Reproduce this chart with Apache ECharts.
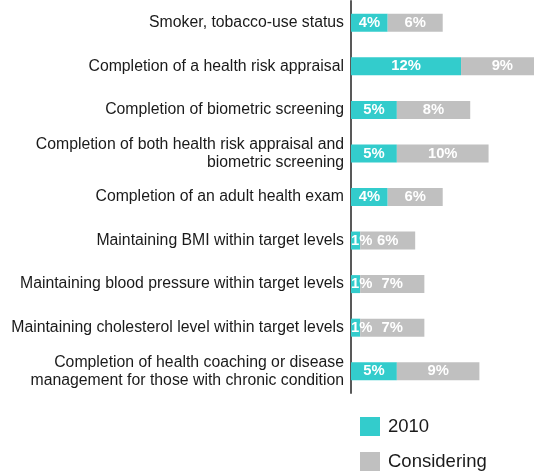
<!DOCTYPE html>
<html>
<head>
<meta charset="utf-8">
<script src="https://cdn.jsdelivr.net/npm/echarts@6/dist/echarts.min.js"></script>
<style>
  html, body { margin: 0; padding: 0; background: #ffffff; }
  #chart { width: 534px; height: 474px; }
</style>
</head>
<body>
<div id="chart"></div>
<script>
// Wellness incentive criteria, top to bottom
const categories = [
  "Smoker, tobacco-use status",
  "Completion of a health risk appraisal",
  "Completion of biometric screening",
  "Completion of both health risk appraisal and\nbiometric screening",
  "Completion of an adult health exam",
  "Maintaining BMI within target levels",
  "Maintaining blood pressure within target levels",
  "Maintaining cholesterol level within target levels",
  "Completion of health coaching or disease\nmanagement for those with chronic condition"
];
const values2010 = [4, 12, 5, 5, 4, 1, 1, 1, 5];
const valuesConsidering = [6, 9, 8, 10, 6, 6, 7, 7, 9];
const seriesNames = ["2010", "Considering"];

const FONT = '"Liberation Sans", Arial, sans-serif';
const AXIS_MAX = 21;
const GRID_LEFT = 351;
const GRID_WIDTH = 192.6;
const PX_PER_UNIT = GRID_WIDTH / AXIS_MAX;

const chart = echarts.init(document.getElementById('chart'));

const baseLabel = {
  show: true,
  position: 'inside',
  formatter: '{c}%',
  color: '#ffffff',
  fontFamily: FONT,
  fontWeight: 'bold',
  fontSize: 14.8
};

// Narrow segments: the label starts at the segment's left edge and runs past it
function withLabels(values) {
  return values.map(v => {
    if (v * PX_PER_UNIT < 22) {
      return { value: v, label: { position: 'insideLeft', distance: 0 } };
    }
    return v;
  });
}

chart.setOption({
  animation: false,
  grid: {
    left: GRID_LEFT, top: 1, width: GRID_WIDTH, height: 392,
    containLabel: false, outerBoundsMode: 'none'
  },
  xAxis: {
    type: 'value',
    min: 0,
    max: AXIS_MAX,
    show: false
  },
  yAxis: {
    type: 'category',
    data: categories,
    inverse: true,
    axisLine: { show: true, lineStyle: { color: '#595959', width: 2 } },
    axisTick: { show: false },
    axisLabel: {
      margin: 7,
      color: '#1a1a1a',
      fontFamily: FONT,
      fontSize: 15.8,
      lineHeight: 18,
      align: 'right'
    }
  },
  legend: {
    orient: 'vertical',
    left: 360,
    top: 417,
    height: 57,
    padding: 0,
    itemWidth: 20,
    itemHeight: 19,
    itemGap: 16,
    icon: 'rect',
    data: seriesNames,
    textStyle: {
      color: '#1a1a1a',
      fontFamily: FONT,
      fontSize: 18.5,
      padding: [0, 0, 0, 3]
    }
  },
  series: [
    {
      name: seriesNames[0],
      type: 'bar',
      stack: 'total',
      barWidth: 18,
      clip: false,
      itemStyle: { color: '#33CCCC' },
      label: baseLabel,
      data: withLabels(values2010)
    },
    {
      name: seriesNames[1],
      type: 'bar',
      stack: 'total',
      barWidth: 18,
      clip: false,
      itemStyle: { color: '#C0C0C0' },
      label: baseLabel,
      data: withLabels(valuesConsidering)
    }
  ]
});
</script>
</body>
</html>
